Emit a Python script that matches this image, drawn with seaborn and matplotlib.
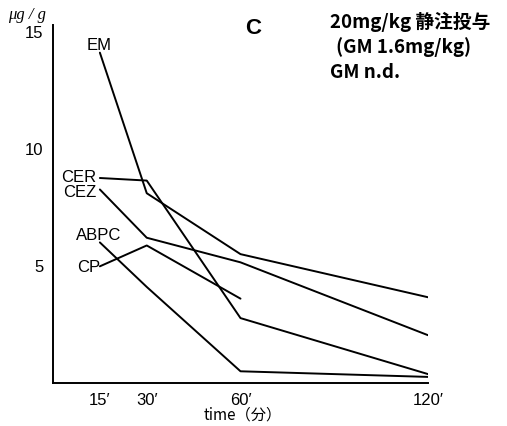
import matplotlib
matplotlib.use("Agg")
import matplotlib.pyplot as plt
import seaborn as sns
import pandas as pd

# ---- data ----
times = [15, 30, 60, 120]
cp_times = [15, 30, 60]
em = [14.1, 8.1, 5.5, 3.66]
cer = [8.75, 8.64, 2.77, 0.38]
cez = [8.26, 6.2, 5.15, 2.04]
abpc = [6.0, 4.1, 0.5, 0.26]
cp = [4.98, 5.87, 3.6]

x_ticks = [15, 30, 60, 120]
x_tick_labels = ["15′", "30′", "60′", "120′"]
y_ticks = [5, 10, 15]
y_tick_labels = ["5", "10", "15"]

sns.set_style("white")
plt.rcParams['font.family'] = ['Liberation Sans', 'Noto Sans CJK JP', 'DejaVu Sans']
plt.rcParams['text.color'] = 'black'
plt.rcParams['xtick.color'] = 'black'
plt.rcParams['ytick.color'] = 'black'
plt.rcParams['axes.labelcolor'] = 'black'

W, H = 507, 426
fig = plt.figure(figsize=(W / 100, H / 100), dpi=100)
ax = fig.add_axes([53 / W, 43 / H, 375 / W, 358 / H])

series = [("EM", times, em), ("CER", times, cer), ("CEZ", times, cez),
          ("ABPC", times, abpc), ("CP", cp_times, cp)]
for name, tx, vals in series:
    df = pd.DataFrame({"t": tx, "v": vals})
    sns.lineplot(data=df, x="t", y="v", color="black", linewidth=1.4,
                 sort=False, ax=ax)

ax.set_xlim(0, 120)
ax.set_ylim(0, 15.28)
ax.set_xlabel("")
ax.set_ylabel("")
ax.set_xticks(x_ticks)
ax.set_xticklabels(x_tick_labels, fontsize=12)
ax.set_yticks(y_ticks)
ax.set_yticklabels(y_tick_labels, fontsize=12)
ax.tick_params(axis="both", direction="out", length=5, width=1.2,
               colors="black", labelcolor="black", pad=2)
for s in ["top", "right"]:
    ax.spines[s].set_visible(False)
for s in ["left", "bottom"]:
    ax.spines[s].set_color("black")
    ax.spines[s].set_linewidth(1.4)

# line labels
lab = dict(fontsize=12, color="black")
ax.text(14.6, 14.4, "EM", ha="center", va="center", **lab)
ax.text(14.0, 8.77, "CER", ha="right", va="center", **lab)
ax.text(14.0, 8.13, "CEZ", ha="right", va="center", **lab)
ax.text(14.6, 6.3, "ABPC", ha="center", va="center", **lab)
ax.text(15.0, 4.94, "CP", ha="right", va="center", **lab)

# figure texts
def ft(x, y, s, **kw):
    fig.text(x / W, 1 - y / H, s, color="black", **kw)

ft(27, 15, "μg / g", ha="center", va="center", fontsize=12, style="italic",
   family=["Liberation Serif", "DejaVu Serif"])
ft(253, 29, "C", ha="center", va="center", fontsize=16, fontweight="bold")
cj = ["Noto Sans CJK JP", "DejaVu Sans"]
ft(330, 22, "20mg/kg 静注投与", ha="left", va="center", fontsize=13.5,
   fontweight="bold", family=cj)
ft(336, 47, "(GM 1.6mg/kg)", ha="left", va="center", fontsize=13.5,
   fontweight="bold", family=cj)
ft(330, 72, "GM n.d.", ha="left", va="center", fontsize=13.5,
   fontweight="bold", family=cj)
ft(243, 415, "time（分）", ha="center", va="center", fontsize=11, family=cj)

fig.savefig("out.png", dpi=100)
